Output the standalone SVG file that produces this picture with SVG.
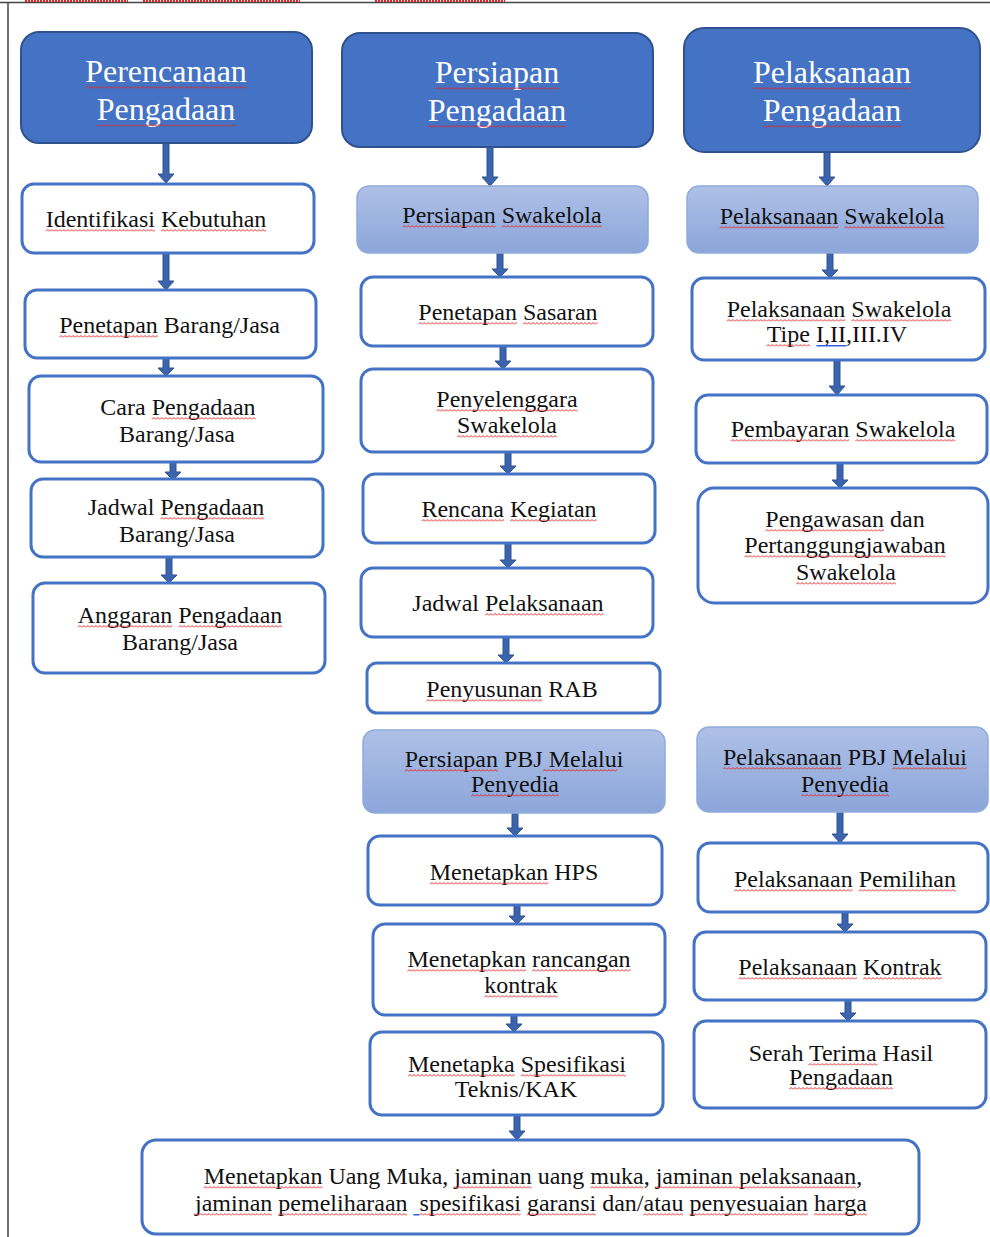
<svg xmlns="http://www.w3.org/2000/svg" width="990" height="1237" viewBox="0 0 990 1237">
<defs>
<linearGradient id="sub" x1="0" y1="0" x2="0" y2="1">
<stop offset="0" stop-color="#AEC0E6"/>
<stop offset="1" stop-color="#8CA6DA"/>
</linearGradient>
<pattern id="wv" width="4" height="3" patternUnits="userSpaceOnUse">
<path d="M0,2.5 L2,0.5 L4,2.5" fill="none" stroke="#E02828" stroke-width="1"/>
</pattern>
<style>
.hdr rect{fill:#4472C4;stroke:#2F528F;stroke-width:2}
.box rect{fill:#FFFFFF;stroke:#4472C4;stroke-width:3}
.sub rect{fill:url(#sub);stroke:#8FAADC;stroke-width:1.5}
text{font-family:"Liberation Serif","Times New Roman",serif;text-anchor:middle}
.hdr text{font-size:32px;fill:#FFFFFF}
.box text,.sub text{font-size:24px;fill:#111111}
g rect.wv{fill:url(#wv);stroke:none}
g rect.gl{fill:#3060E0;stroke:none}
#connectors path{fill:#3B64AD;stroke:#2F528F;stroke-width:1}
.frame{stroke:#444444;stroke-width:1.5;fill:none}
.sq{stroke:#E02020;stroke-width:2;stroke-dasharray:2 1}
</style>
</defs>
<rect x="0" y="0" width="990" height="1237" fill="#FFFFFF"/>
<line class="frame" x1="0" y1="2.5" x2="990" y2="2.5"/>
<line class="frame" x1="8" y1="2" x2="8" y2="1237"/>
<line class="sq" x1="25" y1="1" x2="128" y2="1"/>
<line class="sq" x1="143" y1="1" x2="300" y2="1"/>
<line class="sq" x1="375" y1="1" x2="505" y2="1"/>

<g id="connectors">
<path d="M163,143 L169,143 L169,174 L174,174 L166,183 L158,174 L163,174 Z"/>
<path d="M163,253 L169,253 L169,281 L174,281 L166,290 L158,281 L163,281 Z"/>
<path d="M163,358 L169,358 L169,368 L174,368 L166,376 L158,368 L163,368 Z"/>
<path d="M170,462 L176,462 L176,472 L181,472 L173,480 L165,472 L170,472 Z"/>
<path d="M166,557 L172,557 L172,575 L177,575 L169,583 L161,575 L166,575 Z"/>

<path d="M487,147 L493,147 L493,177 L498,177 L490,186 L482,177 L487,177 Z"/>
<path d="M497,253 L503,253 L503,269 L508,269 L500,277 L492,269 L497,269 Z"/>
<path d="M500,346 L506,346 L506,361 L511,361 L503,369 L495,361 L500,361 Z"/>
<path d="M505,452 L511,452 L511,466 L516,466 L508,474 L500,466 L505,466 Z"/>
<path d="M505,543 L511,543 L511,560 L516,560 L508,568 L500,560 L505,560 Z"/>
<path d="M503,637 L509,637 L509,655 L514,655 L506,663 L498,655 L503,655 Z"/>
<path d="M512,813 L518,813 L518,828 L523,828 L515,836 L507,828 L512,828 Z"/>
<path d="M514,905 L520,905 L520,916 L525,916 L517,924 L509,916 L514,916 Z"/>
<path d="M511,1015 L517,1015 L517,1024 L522,1024 L514,1032 L506,1024 L511,1024 Z"/>
<path d="M514,1115 L520,1115 L520,1131 L525,1131 L517,1140 L509,1131 L514,1131 Z"/>

<path d="M824,152 L830,152 L830,177 L835,177 L827,186 L819,177 L824,177 Z"/>
<path d="M827,253 L833,253 L833,270 L838,270 L830,278 L822,270 L827,270 Z"/>
<path d="M834,360 L840,360 L840,386 L845,386 L837,395 L829,386 L834,386 Z"/>
<path d="M837,463 L843,463 L843,480 L848,480 L840,488 L832,480 L837,480 Z"/>
<path d="M837,812 L843,812 L843,834 L848,834 L840,843 L832,834 L837,834 Z"/>
<path d="M842,912 L848,912 L848,924 L853,924 L845,932 L837,924 L842,924 Z"/>
<path d="M845,1000 L851,1000 L851,1013 L856,1013 L848,1021 L840,1013 L845,1013 Z"/>
</g>

<g id="perencanaan" class="hdr">
<rect x="21" y="32" width="291" height="111" rx="18"/>
<text x="166" y="82">Perencanaan</text>
<text x="166" y="120">Pengadaan</text>
<rect class="wv" width="161.7" height="3" transform="translate(85.2,86)"/>
<rect class="wv" width="138.6" height="3" transform="translate(96.7,124)"/>
</g>
<g id="identifikasi" class="box">
<rect x="22" y="184" width="292" height="69" rx="12"/>
<text x="156" y="227">Identifikasi Kebutuhan</text>
<rect class="wv" width="109.3" height="3" transform="translate(45.7,229)"/>
<rect class="wv" width="105.3" height="3" transform="translate(161,229)"/>
</g>
<g id="penetapan-barang" class="box">
<rect x="25" y="290" width="291" height="68" rx="12"/>
<text x="169.5" y="333">Penetapan Barang/Jasa</text>
<rect class="wv" width="98.6" height="3" transform="translate(59.2,335)"/>
</g>
<g id="cara-pengadaan" class="box">
<rect x="29" y="376" width="294" height="86" rx="12"/>
<text x="178" y="415">Cara Pengadaan</text>
<text x="177" y="442">Barang/Jasa</text>
<rect class="wv" width="104" height="3" transform="translate(151.7,417)"/>
</g>
<g id="jadwal-pengadaan" class="box">
<rect x="31" y="479" width="292" height="78" rx="12"/>
<text x="176" y="515">Jadwal Pengadaan</text>
<text x="177" y="542">Barang/Jasa</text>
<rect class="wv" width="104" height="3" transform="translate(160.3,517)"/>
</g>
<g id="anggaran" class="box">
<rect x="33" y="583" width="292" height="90" rx="12"/>
<text x="180" y="623">Anggaran Pengadaan</text>
<text x="180" y="650">Barang/Jasa</text>
<rect class="wv" width="94.6" height="3" transform="translate(77.7,625)"/>
<rect class="wv" width="104" height="3" transform="translate(178.3,625)"/>
</g>

<g id="persiapan" class="hdr">
<rect x="342" y="33" width="311" height="114" rx="18"/>
<text x="497" y="83">Persiapan</text>
<text x="497" y="121">Pengadaan</text>
<rect class="wv" width="124.4" height="3" transform="translate(434.8,87)"/>
<rect class="wv" width="138.6" height="3" transform="translate(427.7,125)"/>
</g>
<g id="persiapan-swakelola" class="sub">
<rect x="357" y="186" width="291" height="67" rx="12"/>
<text x="502" y="223">Persiapan Swakelola</text>
<rect class="wv" width="93.3" height="3" transform="translate(402.4,225)"/>
<rect class="wv" width="100" height="3" transform="translate(501.7,225)"/>
</g>
<g id="penetapan-sasaran" class="box">
<rect x="361" y="277" width="292" height="69" rx="12"/>
<text x="508" y="320">Penetapan Sasaran</text>
<rect class="wv" width="98.6" height="3" transform="translate(418.4,322)"/>
<rect class="wv" width="74.6" height="3" transform="translate(523,322)"/>
</g>
<g id="penyelenggara" class="box">
<rect x="361" y="369" width="292" height="83" rx="12"/>
<text x="507" y="407">Penyelenggara</text>
<text x="507" y="433">Swakelola</text>
<rect class="wv" width="141.3" height="3" transform="translate(436.4,409)"/>
<rect class="wv" width="100" height="3" transform="translate(457,435)"/>
</g>
<g id="rencana" class="box">
<rect x="363" y="474" width="292" height="69" rx="12"/>
<text x="509" y="517">Rencana Kegiatan</text>
<rect class="wv" width="82.6" height="3" transform="translate(421.4,519)"/>
<rect class="wv" width="86.6" height="3" transform="translate(510,519)"/>
</g>
<g id="jadwal-pelaksanaan" class="box">
<rect x="361" y="568" width="292" height="69" rx="12"/>
<text x="508" y="611">Jadwal Pelaksanaan</text>
<rect class="wv" width="118.6" height="3" transform="translate(485,613)"/>
</g>
<g id="rab" class="box">
<rect x="367" y="663" width="293" height="50" rx="10"/>
<text x="512" y="697">Penyusunan RAB</text>
<rect class="wv" width="116" height="3" transform="translate(426.3,699)"/>
</g>
<g id="persiapan-pbj" class="sub">
<rect x="363" y="730" width="302" height="83" rx="12"/>
<text x="514" y="767">Persiapan PBJ Melalui</text>
<text x="515" y="792">Penyedia</text>
<rect class="wv" width="93.3" height="3" transform="translate(404.7,769)"/>
<rect class="wv" width="74.6" height="3" transform="translate(542.7,769)"/>
<rect class="wv" width="88" height="3" transform="translate(471,794)"/>
</g>
<g id="hps" class="box">
<rect x="368" y="836" width="294" height="69" rx="12"/>
<text x="514" y="880">Menetapkan HPS</text>
<rect class="wv" width="118.6" height="3" transform="translate(429.7,882)"/>
</g>
<g id="rancangan" class="box">
<rect x="373" y="924" width="292" height="91" rx="12"/>
<text x="519" y="967">Menetapkan rancangan</text>
<text x="521" y="993">kontrak</text>
<rect class="wv" width="118.6" height="3" transform="translate(407.4,969)"/>
<rect class="wv" width="98.6" height="3" transform="translate(532,969)"/>
<rect class="wv" width="73.3" height="3" transform="translate(484.3,995)"/>
</g>
<g id="spesifikasi" class="box">
<rect x="370" y="1032" width="293" height="83" rx="12"/>
<text x="517" y="1072">Menetapka Spesifikasi</text>
<text x="516" y="1097">Teknis/KAK</text>
<rect class="wv" width="106.6" height="3" transform="translate(408,1074)"/>
<rect class="wv" width="105.4" height="3" transform="translate(520.6,1074)"/>
</g>

<g id="pelaksanaan" class="hdr">
<rect x="684" y="28" width="296" height="124" rx="20"/>
<text x="832" y="83">Pelaksanaan</text>
<text x="832" y="121">Pengadaan</text>
<rect class="wv" width="158.2" height="3" transform="translate(752.9,87)"/>
<rect class="wv" width="138.6" height="3" transform="translate(762.7,125)"/>
</g>
<g id="pelaksanaan-swakelola" class="sub">
<rect x="687" y="186" width="291" height="67" rx="12"/>
<text x="832" y="224">Pelaksanaan Swakelola</text>
<rect class="wv" width="118.6" height="3" transform="translate(719.7,226)"/>
<rect class="wv" width="100" height="3" transform="translate(844.3,226)"/>
</g>
<g id="tipe" class="box">
<rect x="692" y="278" width="293" height="82" rx="12"/>
<text x="839" y="317">Pelaksanaan Swakelola</text>
<text x="837" y="342">Tipe I,II,III.IV</text>
<rect class="wv" width="118.6" height="3" transform="translate(726.7,319)"/>
<rect class="wv" width="100" height="3" transform="translate(851.3,319)"/>
<rect class="wv" width="44" height="3" transform="translate(766.4,344)"/>
<rect class="gl" width="30" height="1.5" transform="translate(816.4,345)"/>
</g>
<g id="pembayaran" class="box">
<rect x="696" y="395" width="291" height="68" rx="12"/>
<text x="843" y="437">Pembayaran Swakelola</text>
<rect class="wv" width="118.6" height="3" transform="translate(730.7,439)"/>
<rect class="wv" width="100" height="3" transform="translate(855.3,439)"/>
</g>
<g id="pengawasan" class="box">
<rect x="698" y="488" width="290" height="115" rx="16"/>
<text x="845" y="527">Pengawasan dan</text>
<text x="845" y="553">Pertanggungjawaban</text>
<text x="846" y="580">Swakelola</text>
<rect class="wv" width="118.6" height="3" transform="translate(765.4,529)"/>
<rect class="wv" width="201.3" height="3" transform="translate(744.4,555)"/>
<rect class="wv" width="100" height="3" transform="translate(796,582)"/>
</g>
<g id="pelaksanaan-pbj" class="sub">
<rect x="697" y="727" width="291" height="85" rx="12"/>
<text x="845" y="765">Pelaksanaan PBJ Melalui</text>
<text x="845" y="792">Penyedia</text>
<rect class="wv" width="118.6" height="3" transform="translate(723,767)"/>
<rect class="wv" width="74.6" height="3" transform="translate(892.3,767)"/>
<rect class="wv" width="88" height="3" transform="translate(801,794)"/>
</g>
<g id="pemilihan" class="box">
<rect x="698" y="843" width="290" height="69" rx="12"/>
<text x="845" y="887">Pelaksanaan Pemilihan</text>
<rect class="wv" width="118.6" height="3" transform="translate(734,889)"/>
<rect class="wv" width="97.4" height="3" transform="translate(858.6,889)"/>
</g>
<g id="kontrak" class="box">
<rect x="694" y="932" width="292" height="68" rx="12"/>
<text x="840" y="975">Pelaksanaan Kontrak</text>
<rect class="wv" width="118.6" height="3" transform="translate(738.4,977)"/>
<rect class="wv" width="78.6" height="3" transform="translate(863,977)"/>
</g>
<g id="serah-terima" class="box">
<rect x="694" y="1021" width="292" height="87" rx="12"/>
<text x="841" y="1061">Serah Terima Hasil</text>
<text x="841" y="1085">Pengadaan</text>
<rect class="wv" width="69.3" height="3" transform="translate(808.3,1063)"/>
<rect class="wv" width="104" height="3" transform="translate(789,1087)"/>
</g>

<g id="uang-muka" class="box">
<rect x="142" y="1140" width="777" height="94" rx="14"/>
<text x="533" y="1184">Menetapkan Uang Muka, jaminan uang muka, jaminan pelaksanaan,</text>
<text x="531" y="1211" xml:space="preserve">jaminan pemeliharaan  spesifikasi garansi dan/atau penyesuaian harga</text>
<rect class="wv" width="118.6" height="3" transform="translate(203.7,1186)"/>
<rect class="wv" width="77.3" height="3" transform="translate(454.3,1186)"/>
<rect class="wv" width="53.3" height="3" transform="translate(590.3,1186)"/>
<rect class="wv" width="200.6" height="3" transform="translate(655.6,1186)"/>
<rect class="wv" width="77.3" height="3" transform="translate(194.7,1213)"/>
<rect class="wv" width="129.3" height="3" transform="translate(278,1213)"/>
<rect class="gl" width="6" height="1.5" transform="translate(413.3,1214)"/>
<rect class="wv" width="101.3" height="3" transform="translate(419.3,1213)"/>
<rect class="wv" width="69.4" height="3" transform="translate(526.6,1213)"/>
<rect class="wv" width="40" height="3" transform="translate(643.3,1213)"/>
<rect class="wv" width="118.6" height="3" transform="translate(689.3,1213)"/>
<rect class="wv" width="53.3" height="3" transform="translate(813.9,1213)"/>
</g>
</svg>
